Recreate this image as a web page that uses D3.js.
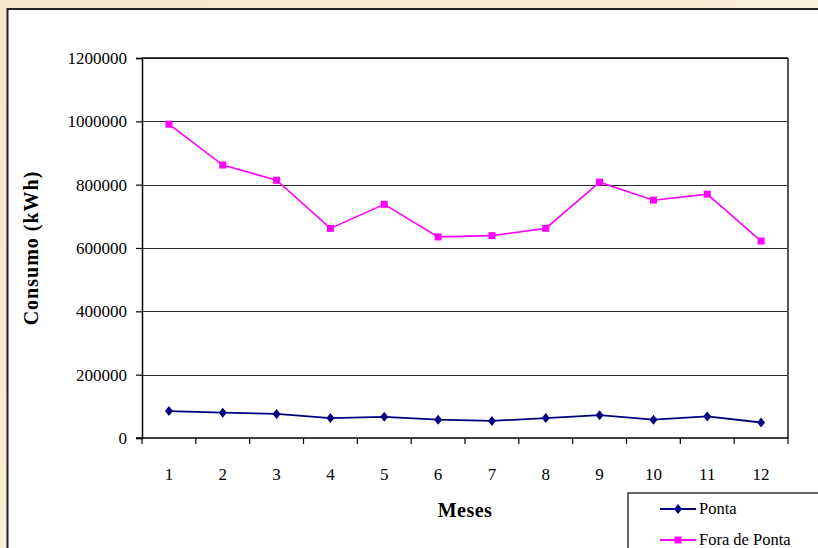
<!DOCTYPE html>
<html>
<head>
<meta charset="utf-8">
<script src="https://cdn.jsdelivr.net/npm/d3@7"></script>
<style>
  html, body { margin: 0; padding: 0; background: #f7e9cf; }
  svg { display: block; }
  svg text { font-family: "Liberation Serif", "Times New Roman", Times, serif !important; fill: #000; }
</style>
</head>
<body>
<svg id="chart" width="818" height="548"></svg>
<script>
// Monthly energy consumption (kWh), peak vs off-peak
const meses = ["1", "2", "3", "4", "5", "6", "7", "8", "9", "10", "11", "12"];
const ponta = [85000, 80000, 76000, 63000, 67000, 58000, 54000, 63000, 72000, 58000, 68000, 49000];
const foraDePonta = [991000, 862000, 814000, 662000, 738000, 635000, 639000, 662000, 808000, 751000, 770000, 622000];
const yTicks = [0, 200000, 400000, 600000, 800000, 1000000, 1200000];
const seriesNames = ["Ponta", "Fora de Ponta"];

const serif = "Liberation Serif, Times New Roman, Times, serif";
const svg = d3.select("#chart").attr("font-family", serif);

// Slide-like cream backdrop with soft variation
const defs = svg.append("defs");
const bg = defs.append("linearGradient").attr("id", "bg").attr("x1", 0).attr("y1", 0).attr("x2", 1).attr("y2", 1);
bg.append("stop").attr("offset", "0%").attr("stop-color", "#f6e5c6");
bg.append("stop").attr("offset", "50%").attr("stop-color", "#faefd9");
bg.append("stop").attr("offset", "100%").attr("stop-color", "#f7e8cc");
svg.append("rect").attr("width", 818).attr("height", 548).attr("fill", "url(#bg)");

// White chart frame (extends past the right and bottom edges)
svg.append("rect")
  .attr("x", 7.5).attr("y", 9)
  .attr("width", 830).attr("height", 560)
  .attr("fill", "#fff").attr("stroke", "#222").attr("stroke-width", 2);

const plot = { left: 142, top: 58, right: 788, bottom: 438 };

const x = d3.scaleBand().domain(meses).range([plot.left, plot.right]).padding(0);
const y = d3.scaleLinear().domain([0, 1200000]).range([plot.bottom, plot.top]);

// Horizontal gridlines
svg.append("g")
  .selectAll("line")
  .data(yTicks.filter(d => d > 0))
  .join("line")
  .attr("x1", plot.left).attr("x2", plot.right)
  .attr("y1", d => Math.round(y(d)) + 0.5).attr("y2", d => Math.round(y(d)) + 0.5)
  .attr("stroke", "#2a2a2a").attr("stroke-width", 1.1);

// Plot-area right edge
svg.append("line")
  .attr("x1", plot.right).attr("x2", plot.right)
  .attr("y1", plot.top).attr("y2", plot.bottom)
  .attr("stroke", "#555").attr("stroke-width", 2);

// Y axis
const yAxis = svg.append("g")
  .attr("transform", `translate(${plot.left},0)`)
  .call(d3.axisLeft(y).tickValues(yTicks).tickFormat(d3.format("d")).tickSize(6).tickPadding(9))
  .attr("font-family", serif).attr("font-size", 17);
yAxis.select(".domain").attr("stroke", "#000").attr("stroke-width", 1.5);
yAxis.selectAll(".tick line").attr("stroke", "#000").attr("stroke-width", 1.2);
yAxis.selectAll("text").attr("font-family", serif).style("font-size", "17px").attr("fill", "#000");

// X axis: ticks on band boundaries, labels centred in bands
const xAxisG = svg.append("g").attr("transform", `translate(0,${plot.bottom})`);
xAxisG.append("line")
  .attr("x1", plot.left - 6).attr("x2", plot.right)
  .attr("y1", 0).attr("y2", 0)
  .attr("stroke", "#000").attr("stroke-width", 1.5);
const bounds = meses.map(m => x(m)).concat([plot.right]);
xAxisG.selectAll("line.tk")
  .data(bounds)
  .join("line").attr("class", "tk")
  .attr("x1", d => d).attr("x2", d => d)
  .attr("y1", 0).attr("y2", 6)
  .attr("stroke", "#000").attr("stroke-width", 1.2);
xAxisG.selectAll("text.lbl")
  .data(meses)
  .join("text").attr("class", "lbl")
  .attr("x", d => x(d) + x.bandwidth() / 2)
  .attr("y", 42)
  .attr("text-anchor", "middle")
  .style("font-size", "17px")
  .text(d => d);

// Plot-area top edge
svg.append("line")
  .attr("x1", plot.left).attr("x2", plot.right)
  .attr("y1", plot.top).attr("y2", plot.top)
  .attr("stroke", "#111").attr("stroke-width", 1.5);

// Axis titles
svg.append("text")
  .attr("x", (plot.left + plot.right) / 2).attr("y", 517)
  .attr("text-anchor", "middle")
  .style("font-size", "20px").style("font-weight", "bold")
  .style("letter-spacing", "0.5px")
  .text("Meses");
svg.append("text")
  .attr("transform", `translate(38,${(plot.top + plot.bottom) / 2}) rotate(-90)`)
  .attr("text-anchor", "middle")
  .style("font-size", "20px").style("font-weight", "bold")
  .style("letter-spacing", "1px")
  .text("Consumo (kWh)");

const cx = (d, i) => x(meses[i]) + x.bandwidth() / 2;
const line = d3.line().x((d, i) => cx(d, i)).y(d => y(d));

const diamond = "M0,-5L4,0L0,5L-4,0Z";

// Off-peak series
svg.append("path").datum(foraDePonta)
  .attr("d", line).attr("fill", "none")
  .attr("stroke", "#ff00ff").attr("stroke-width", 1.6);
svg.append("g").selectAll("rect")
  .data(foraDePonta)
  .join("rect")
  .attr("x", (d, i) => cx(d, i) - 3.5).attr("y", d => y(d) - 3.5)
  .attr("width", 7).attr("height", 7)
  .attr("fill", "#ff00ff");

// Peak series
svg.append("path").datum(ponta)
  .attr("d", line).attr("fill", "none")
  .attr("stroke", "#000080").attr("stroke-width", 1.8);
svg.append("g").selectAll("path")
  .data(ponta)
  .join("path")
  .attr("d", diamond)
  .attr("transform", (d, i) => `translate(${cx(d, i)},${y(d)})`)
  .attr("fill", "#000080");

// Legend box (runs off the bottom-right corner)
const lg = svg.append("g");
lg.append("rect")
  .attr("x", 628).attr("y", 493)
  .attr("width", 220).attr("height", 80)
  .attr("fill", "#fff").attr("stroke", "#333").attr("stroke-width", 1.5);
const legendItems = [
  { name: seriesNames[0], color: "#000080", marker: "diamond", y: 509 },
  { name: seriesNames[1], color: "#ff00ff", marker: "square", y: 540 }
];
legendItems.forEach(it => {
  lg.append("line")
    .attr("x1", 660).attr("x2", 696)
    .attr("y1", it.y).attr("y2", it.y)
    .attr("stroke", it.color).attr("stroke-width", 1.8);
  if (it.marker === "diamond") {
    lg.append("path").attr("d", diamond)
      .attr("transform", `translate(678,${it.y})`).attr("fill", it.color);
  } else {
    lg.append("rect")
      .attr("x", 674.5).attr("y", it.y - 3.5)
      .attr("width", 7).attr("height", 7).attr("fill", it.color);
  }
  lg.append("text")
    .attr("x", 699).attr("y", it.y + 5)
    .style("font-size", "16.5px")
    .text(it.name);
});
</script>
</body>
</html>
